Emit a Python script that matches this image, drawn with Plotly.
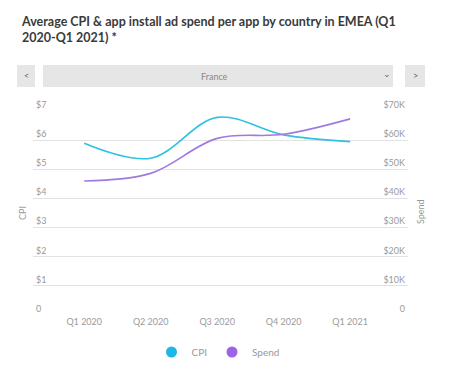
import plotly.graph_objects as go

quarters = ["Q1 2020", "Q2 2020", "Q3 2020", "Q4 2020", "Q1 2021"]
cpi = [5.89, 5.38, 6.78, 6.18, 5.95]
spend = [46000, 48600, 60600, 62000, 67300]
cpi_ticks = [0, 1, 2, 3, 4, 5, 6, 7]
cpi_tick_text = ["0", "$1", "$2", "$3", "$4", "$5", "$6", "$7"]
spend_ticks = [0, 10000, 20000, 30000, 40000, 50000, 60000, 70000]
spend_tick_text = ["0", "$10K", "$20K", "$30K", "$40K", "$50K", "$60K", "$70K"]

CPI_COLOR = "#2EC1E2"
SPEND_COLOR = "#A07AE0"
OFF = 8  # default page body margin
W, H = 458 - OFF, 374 - OFF
# plot area in window pixels
L, R, T, B = 33, 408, 111, 315

def px(x):
    return (x - L) / (R - L)

def py(y):
    return (B - y) / (B - T)

fig = go.Figure()
fig.add_trace(go.Scatter(x=quarters, y=cpi, mode="lines", line=dict(color=CPI_COLOR, width=1.6, shape="spline", smoothing=1.0),
                         name="CPI", showlegend=False, yaxis="y"))
fig.add_trace(go.Scatter(x=quarters, y=spend, mode="lines", line=dict(color=SPEND_COLOR, width=1.6, shape="spline", smoothing=1.0),
                         name="Spend", showlegend=False, yaxis="y2"))
fig.add_trace(go.Scatter(x=[None], y=[None], mode="markers", marker=dict(color="#1BB8E6", size=11), name="CPI"))
fig.add_trace(go.Scatter(x=[None], y=[None], mode="markers", marker=dict(color="#9C64E6", size=11), name="Spend"))

tick_font = dict(family="Lato", size=9, color="#9a9a9a")

fig.update_layout(
    width=W, height=H,
    margin=dict(l=L - OFF, r=458 - R, t=T - OFF, b=374 - B, autoexpand=False),
    paper_bgcolor="white", plot_bgcolor="white",
    font=dict(family="Lato", color="#999"),
    xaxis=dict(type="category", range=[-0.77, 4.87], showgrid=False, zeroline=False, showline=False,
               tickfont=tick_font, ticks="", automargin=False),
    yaxis=dict(range=[0, 7], tickvals=cpi_ticks, ticktext=cpi_tick_text, showgrid=True, gridcolor="#e2e2e2",
               gridwidth=1, zeroline=False, ticklabelposition="inside top", ticklabeloverflow="allow",
               tickfont=tick_font, automargin=False),
    yaxis2=dict(range=[0, 70000], overlaying="y", side="right", tickvals=spend_ticks, ticktext=spend_tick_text,
                showgrid=False, zeroline=False, ticklabelposition="inside top", ticklabeloverflow="allow",
                tickfont=tick_font, automargin=False),
    legend=dict(orientation="h", x=px(218), xanchor="center", y=py(352), yanchor="middle",
                font=dict(family="Lato", size=10, color="#999"), itemwidth=30, tracegroupgap=0),
    showlegend=True,
)

def note(text, x, y, size=9, color="#888", family="Lato", angle=0):
    fig.add_annotation(text=text, xref="paper", yref="paper", x=px(x), y=py(y), xanchor="center",
                       yanchor="middle", textangle=angle, showarrow=False,
                       font=dict(family=family, size=size, color=color))

# title
fig.add_annotation(text="<b>Average CPI &amp; app install ad spend per app by country in EMEA (Q1<br>2020-Q1 2021) *</b>",
                   xref="paper", yref="paper", x=px(19), y=py(12), xanchor="left", yanchor="top", align="left",
                   showarrow=False, font=dict(family="Lato", size=12.5, color="#3a3a3a"))

# dropdown bar
for x0, x1 in [(17, 35), (43, 393), (405, 425)]:
    fig.add_shape(type="rect", xref="paper", yref="paper", x0=px(x0), x1=px(x1), y0=py(87), y1=py(65),
                  fillcolor="#e6e6e6", line=dict(width=0), layer="below")
note("France", 214, 76.5)
note("&lt;", 26, 76, color="#666")
note("&gt;", 415, 76, color="#666")
note("⌄", 387, 74, family="DejaVu Sans", color="#666")

# axis titles
note("CPI", 22, 213, color="#999", angle=-90)
note("Spend", 420, 212, color="#999", angle=-90)

fig.write_html("out.html")
